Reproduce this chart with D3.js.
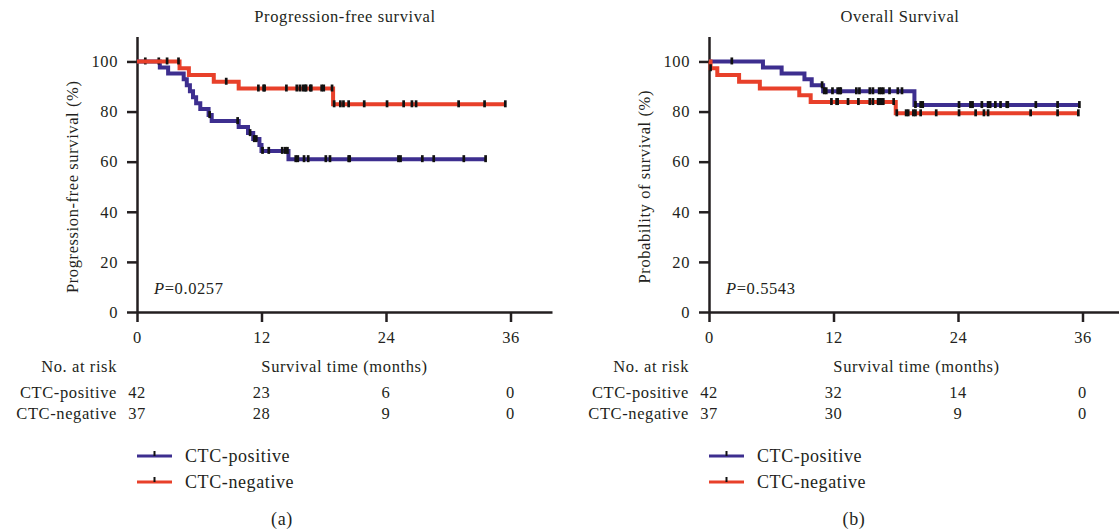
<!DOCTYPE html>
<html lang="en">
<head>
<meta charset="UTF-8">
<title>CTC survival curves</title>
<script src="https://d3js.org/d3.v7.min.js"></script>
<style>
  body { margin: 0; background: #fff; }
  svg text { font-family: "Liberation Serif", "Times New Roman", serif; font-size: 16.5px; letter-spacing: 0.6px; fill: #231f20; }
  svg text.big { font-size: 18px; }
  .axis path, .axis line { stroke: #231f20; stroke-width: 2.5px; }
</style>
</head>
<body>
<svg id="chart" width="1119" height="531"></svg>
<script>
const xTicks = [0, 12, 24, 36];
const yTicks = [0, 20, 40, 60, 80, 100];
const groups = ["CTC-positive", "CTC-negative"];
const colors = ["#3d2e8f", "#e8402a"];

// progression-free survival, steps as [month, survival % after the drop]
const pfsPosSteps = [[2.2, 97.6], [3.0, 95.2], [4.5, 92.9], [4.8, 90.5], [5.1, 88.1], [5.4, 85.7],
  [5.7, 83.3], [6.1, 81.0], [6.9, 78.6], [7.2, 76.2], [9.8, 73.8], [10.7, 71.4], [11.2, 69.0],
  [11.8, 66.7], [12.0, 64.3], [14.6, 61.0]];
const pfsPosEnd = 33.6;
const pfsPosCensor = [0.8, 2.1, 7.0, 9.7, 10.9, 11.3, 11.5, 12.1, 12.7, 14.0, 14.3, 14.5, 15.3, 15.5,
  16.1, 16.5, 18.2, 18.6, 20.4, 20.5, 25.2, 25.4, 27.5, 28.6, 31.5, 33.6];
const pfsNegSteps = [[4.1, 97.3], [5.0, 94.6], [7.4, 91.9], [9.8, 89.2], [18.9, 82.9]];
const pfsNegEnd = 35.5;
const pfsNegCensor = [2.9, 4.0, 8.6, 11.7, 12.2, 12.3, 14.4, 15.4, 15.7, 16.0, 16.2, 16.3, 16.7, 16.8,
  17.8, 18.0, 18.8, 19.0, 19.6, 19.9, 20.4, 21.9, 24.1, 25.7, 26.5, 26.9, 31.0, 33.5, 35.5];

// overall survival
const osPosSteps = [[5.2, 97.6], [7.0, 95.2], [9.2, 92.9], [9.9, 90.5], [11.0, 88.1], [19.8, 82.6]];
const osPosEnd = 35.7;
const osPosCensor = [2.2, 10.9, 11.1, 11.3, 11.9, 12.4, 12.6, 12.7, 14.2, 14.5, 15.5, 15.8, 16.4, 16.6,
  16.8, 17.4, 18.2, 18.6, 19.9, 20.4, 20.6, 24.1, 25.2, 25.4, 26.3, 26.9, 27.1, 27.6, 28.1, 28.7, 28.8,
  31.5, 33.6, 35.7];
const osNegSteps = [[0.15, 97.3], [0.8, 94.6], [2.9, 91.9], [4.9, 89.2], [8.7, 86.5], [9.8, 83.8], [18.0, 79.3]];
const osNegEnd = 35.6;
const osNegCensor = [0.15, 11.8, 12.3, 12.4, 13.4, 14.4, 15.5, 15.8, 16.3, 16.4, 16.6, 16.8, 17.8,
  18.1, 19.0, 19.2, 19.7, 19.9, 20.4, 21.9, 24.1, 25.7, 26.5, 26.9, 31.0, 33.6, 35.6];

// numbers at risk at 0, 12, 24, 36 months
const pfsRiskPos = [42, 23, 6, 0];
const pfsRiskNeg = [37, 28, 9, 0];
const osRiskPos = [42, 32, 14, 0];
const osRiskNeg = [37, 30, 9, 0];

const panels = [
  { x0: 137, titleX: 345, title: "Progression-free survival", yLabel: "Progression-free survival (%)",
    p: "=0.0257", tag: "(a)",
    curves: [[pfsPosSteps, pfsPosEnd, pfsPosCensor], [pfsNegSteps, pfsNegEnd, pfsNegCensor]],
    risk: [pfsRiskPos, pfsRiskNeg] },
  { x0: 709, titleX: 900, title: "Overall Survival", yLabel: "Probability of survival (%)",
    p: "=0.5543", tag: "(b)",
    curves: [[osPosSteps, osPosEnd, osPosCensor], [osNegSteps, osNegEnd, osNegCensor]],
    risk: [osRiskPos, osRiskNeg] }
];

const svg = d3.select("#chart");
const y = d3.scaleLinear().domain([0, 110]).range([312, 36.4]);

function survAt(steps, t) {
  let s = 100;
  steps.forEach(([m, v]) => { if (m <= t) s = v; });
  return s;
}

panels.forEach(p => {
  const x = d3.scaleLinear().domain([0, 40]).range([p.x0, p.x0 + 415]);
  const g = svg.append("g");

  // axes
  g.append("g").attr("class", "axis")
    .attr("transform", `translate(${p.x0},0)`)
    .call(d3.axisLeft(y).tickValues(yTicks).tickSize(10).tickSizeOuter(0).tickPadding(9));
  g.append("g").attr("class", "axis")
    .attr("transform", `translate(0,${y(0)})`)
    .call(d3.axisBottom(x).tickValues(xTicks).tickSize(10).tickSizeOuter(0).tickPadding(9));

  // curves
  const line = d3.line().x(d => x(d[0])).y(d => y(d[1])).curve(d3.curveStepAfter);
  p.curves.forEach(([steps, end, censor], i) => {
    const pts = [[0, 100], ...steps, [end, steps[steps.length - 1][1]]];
    g.append("path").datum(pts)
      .attr("d", line)
      .attr("fill", "none")
      .attr("stroke", colors[i])
      .attr("stroke-width", 4);
    g.selectAll(null).data(censor).enter().append("line")
      .attr("x1", d => x(d)).attr("x2", d => x(d))
      .attr("y1", d => y(survAt(steps, d)) - 4)
      .attr("y2", d => y(survAt(steps, d)) + 3)
      .attr("stroke", "#111")
      .attr("stroke-width", 2.7);
  });

  // titles and labels
  g.append("text").attr("x", p.titleX).attr("y", 22).attr("text-anchor", "middle").text(p.title);
  g.append("text")
    .attr("transform", `translate(${p.x0 - 59},${(y(0) + y(100)) / 2}) rotate(-90)`)
    .attr("text-anchor", "middle").text(p.yLabel);
  const pt = g.append("text").attr("x", p.x0 + 17).attr("y", 294);
  pt.append("tspan").attr("font-style", "italic").text("P");
  pt.append("tspan").text(p.p);

  // risk table
  g.append("text").attr("x", p.x0 - 20).attr("y", 372).attr("text-anchor", "end").text("No. at risk");
  g.append("text").attr("x", x(20)).attr("y", 372).attr("text-anchor", "middle").text("Survival time (months)");
  p.risk.forEach((row, i) => {
    const by = 398 + i * 21;
    g.append("text").attr("x", p.x0 - 20).attr("y", by).attr("text-anchor", "end").text(groups[i]);
    g.selectAll(null).data(row).enter().append("text")
      .attr("x", (d, j) => x(xTicks[j])).attr("y", by)
      .attr("text-anchor", "middle").text(d => d);
  });

  // legend
  groups.forEach((name, i) => {
    const ly = 456 + i * 26;
    g.append("line").attr("x1", p.x0).attr("x2", p.x0 + 35).attr("y1", ly).attr("y2", ly)
      .attr("stroke", colors[i]).attr("stroke-width", 3);
    g.append("line").attr("x1", p.x0 + 17.5).attr("x2", p.x0 + 17.5).attr("y1", ly - 5).attr("y2", ly)
      .attr("stroke", "#111").attr("stroke-width", 2);
    g.append("text").attr("class", "big").attr("x", p.x0 + 48).attr("y", ly + 6).text(name);
  });

  g.append("text").attr("class", "big").attr("x", p.x0 + 145).attr("y", 525)
    .attr("text-anchor", "middle").text(p.tag);
});
</script>
</body>
</html>
